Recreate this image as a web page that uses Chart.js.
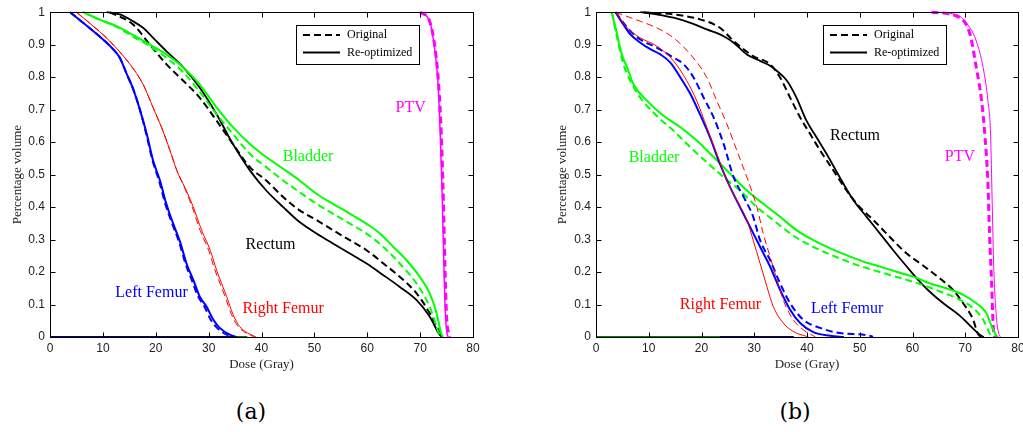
<!DOCTYPE html>
<html><head><meta charset="utf-8">
<script src="https://cdn.jsdelivr.net/npm/chart.js@4/dist/chart.umd.min.js"></script>
<style>
html,body{margin:0;padding:0;background:#fff;overflow:hidden;width:1023px;height:432px;}
#wa{position:absolute;left:0;top:0;width:500px;height:380px;}
#wb{position:absolute;left:540px;top:0;width:500px;height:380px;}
.cap{position:absolute;top:399px;line-height:26px;font-family:"DejaVu Serif",serif;font-size:22px;transform:translateX(-50%);color:#000;}
</style></head>
<body>
<div id="wa"><canvas id="ca" width="500" height="380"></canvas></div>
<div id="wb"><canvas id="cb" width="500" height="380"></canvas></div>
<div class="cap" style="left:251px">(a)</div>
<div class="cap" style="left:795px">(b)</div>
<script>
// ---------- tick labels ----------
const xTickLabels = ['0','10','20','30','40','50','60','70','80'];
const yTickLabels = ['0','0.1','0.2','0.3','0.4','0.5','0.6','0.7','0.8','0.9','1'];
const legendLabels = ['Original','Re-optimized'];
const structureNames = ['PTV','Bladder','Rectum','Left Femur','Right Femur'];

// ---------- panel (a) ----------
const aLeftFemurReDose  = [3.8,9.4,12,13.2,14.5,15.7,17,18.3,19.5,20.8,22,23.3,24.6,25.8,27.1,28.3,29.6,30.9,32.1,34,35.2];
const aLeftFemurReVol   = [1,0.925,0.885,0.86,0.81,0.765,0.70,0.625,0.543,0.482,0.41,0.349,0.293,0.227,0.176,0.125,0.094,0.053,0.028,0.007,0];
const aLeftFemurOrDose  = [3.8,9.4,12,13.2,14.5,15.7,17,18.2,19.4,20.6,21.8,23.1,24.4,25.6,26.8,28,29.2,30.4,31.6,33.4,34.6];
const aLeftFemurOrVol   = [1,0.925,0.885,0.86,0.81,0.765,0.70,0.625,0.543,0.482,0.41,0.349,0.293,0.227,0.176,0.125,0.094,0.053,0.028,0.007,0];
const aRightFemurReDose = [5,9.4,11.3,15.1,17.6,19.5,21.1,22.7,24,25.5,27.1,28.7,30.3,31.5,33.4,34.6,35.9,38.7,39];
const aRightFemurReVol  = [1,0.94,0.911,0.84,0.778,0.706,0.645,0.574,0.512,0.461,0.40,0.328,0.267,0.206,0.125,0.07,0.032,0.002,0];
const aRightFemurOrDose = [5,9.4,11.3,15.1,17.6,19.5,21.1,22.7,24,25.4,26.9,28.4,30,31.2,33.1,34.3,35.6,38.4,38.7];
const aRightFemurOrVol  = [1,0.94,0.911,0.84,0.778,0.706,0.645,0.574,0.512,0.461,0.40,0.328,0.267,0.206,0.125,0.07,0.032,0.002,0];
const aBladderReDose    = [6.3,9.4,12.6,15.7,18.9,22,25.2,28.3,31.5,34.6,37.8,40.9,44.1,47.2,50.4,53.5,56.7,59.8,62.4,64.9,67.4,69.9,71.8,73.1,74,74.3];
const aBladderReVol     = [1,0.977,0.957,0.93,0.90,0.87,0.83,0.778,0.707,0.646,0.594,0.554,0.518,0.482,0.441,0.41,0.38,0.349,0.319,0.278,0.237,0.186,0.135,0.074,0.01,0];
const aBladderOrDose    = [6.3,9.4,12.6,15.7,18.9,22,25.2,28.3,31.5,34.6,37.8,40.9,44.1,47.2,50.4,53.5,56.7,59.8,63,66.1,69.3,71.8,73.7,74.1];
const aBladderOrVol     = [1,0.977,0.955,0.925,0.895,0.86,0.815,0.755,0.686,0.625,0.564,0.523,0.482,0.446,0.41,0.38,0.349,0.319,0.278,0.227,0.165,0.094,0.007,0];
const aRectumReDose     = [10.7,13.2,15.7,17.6,19.5,22,25.2,28.3,31.5,34.6,37.8,40.9,44.1,47.2,50.4,53.5,56.7,59.8,63,66.1,69.3,71.8,73.7,74.2];
const aRectumReVol      = [1,0.993,0.972,0.952,0.921,0.88,0.83,0.768,0.686,0.594,0.513,0.451,0.40,0.354,0.319,0.288,0.257,0.227,0.191,0.155,0.114,0.063,0.007,0];
const aRectumOrDose     = [11.3,15.7,18.9,22,25.2,28.3,31.5,34.6,37.8,40.9,44.1,47.2,50.4,53.5,56.7,59.8,63,66.1,69.3,71.8,74,74.4];
const aRectumOrVol      = [1,0.962,0.90,0.84,0.789,0.737,0.666,0.594,0.523,0.482,0.431,0.39,0.36,0.329,0.298,0.268,0.227,0.186,0.135,0.074,0.007,0];
const aPtvReDose        = [69.9,71.8,72.8,73.4,73.8,74.2,74.5,74.8,75.1,75.3];
const aPtvReVol         = [1,0.972,0.88,0.778,0.625,0.42,0.217,0.063,0.01,0];
const aPtvOrDose        = [70,71.8,72.9,73.5,74,74.4,74.7,75,75.4,75.6];
const aPtvOrVol         = [1,0.972,0.88,0.778,0.625,0.42,0.217,0.063,0.01,0];
const aBaseNavyDose     = [0,35.5];
const aBaseGreenDose    = [35.5,37.3];
const aBaseVol          = [0,0];

// ---------- panel (b) ----------
const bRectumReDose     = [8.4,11.5,14.7,17.9,21,24.2,26.1,28.6,31.1,33,34.3,36.2,38,39.9,41.8,43.7,46.2,48.8,51.3,53.8,56.3,58.9,61.4,63.9,66.4,69,70.9,72.7,73.5];
const bRectumReVol      = [1,0.993,0.983,0.967,0.947,0.926,0.906,0.87,0.85,0.835,0.819,0.789,0.737,0.666,0.615,0.564,0.492,0.421,0.37,0.319,0.268,0.217,0.17,0.13,0.097,0.065,0.035,0.008,0];
const bRectumOrDose     = [9,14.7,19.7,23.5,26.1,29.8,33,34.9,36.8,38.7,40.6,42.5,45,47.5,50,52.6,55.7,58.9,62,65.2,67.7,69.6,71.5,72.4,73];
const bRectumOrVol      = [1,0.993,0.978,0.952,0.911,0.865,0.84,0.799,0.737,0.676,0.625,0.574,0.513,0.451,0.40,0.36,0.308,0.257,0.22,0.18,0.145,0.104,0.053,0.01,0];
const bBladderReDose    = [3,4,4.9,5.9,7.1,9.7,12.8,16,19.1,22.3,25.4,28.6,31.7,34.9,38,41.2,44.4,47.5,50.7,53.8,57,60.1,63.3,66.4,69.6,72.1,74,75,75.9,76.2];
const bBladderReVol     = [1,0.932,0.87,0.83,0.778,0.727,0.681,0.646,0.605,0.554,0.503,0.451,0.41,0.37,0.329,0.298,0.273,0.252,0.232,0.217,0.201,0.186,0.165,0.15,0.13,0.104,0.074,0.033,0.004,0];
const bBladderOrDose    = [3,4,5.2,6.5,8.4,11.5,14.7,17.9,21,24.2,27.3,30.5,33.6,36.8,39.9,43.1,46.2,49.4,52.6,55.7,58.9,62,65.2,68.3,71.5,73.4,74.6,75];
const bBladderOrVol     = [1,0.921,0.84,0.789,0.737,0.681,0.635,0.584,0.538,0.492,0.451,0.40,0.36,0.319,0.288,0.263,0.242,0.222,0.206,0.191,0.176,0.16,0.14,0.12,0.089,0.053,0.012,0];
const bLeftFemurReDose  = [3.7,5.2,6.5,8.4,10.3,12.2,14.1,16,17.9,19.7,21.6,23.5,25.4,27.3,29.2,31.1,33,34.9,36.8,38.7,41.2,44.4,47];
const bLeftFemurReVol   = [1,0.962,0.932,0.906,0.886,0.87,0.845,0.799,0.748,0.686,0.615,0.533,0.462,0.40,0.339,0.278,0.217,0.145,0.084,0.043,0.015,0.004,0];
const bLeftFemurOrDose  = [3.7,6.5,8.4,11.5,14.7,16.6,18.5,20.4,22.3,24.2,26.1,28,29.8,31.1,33,34.9,36.8,39.3,42.5,46.2,51.9,52.5];
const bLeftFemurOrVol   = [1,0.942,0.916,0.891,0.86,0.84,0.799,0.737,0.676,0.594,0.492,0.431,0.37,0.298,0.237,0.165,0.104,0.053,0.028,0.012,0.004,0];
const bRightFemurReDose = [3.7,5.9,8.4,11.5,14.7,17.2,19.1,21,22.9,24.8,26.7,28.6,29.8,31.1,32.4,33.6,35.5,37.4,39.9,40.3];
const bRightFemurReVol  = [1,0.952,0.921,0.896,0.85,0.789,0.727,0.646,0.564,0.482,0.421,0.36,0.298,0.227,0.155,0.094,0.043,0.017,0.002,0];
const bRightFemurOrDose = [3.7,8.4,11.5,14.7,17.9,21,22.9,24.8,26.7,28.6,30.5,31.7,33,34.3,35.5,37.4,39.3,41.2,41.6];
const bRightFemurOrVol  = [1,0.972,0.952,0.921,0.87,0.799,0.727,0.656,0.574,0.492,0.40,0.319,0.247,0.176,0.114,0.053,0.022,0.004,0];
const bPtvReDose        = [63.6,68.3,70.9,72.1,73.4,74.3,74.8,75.1,75.4,75.9,76.5,76.8];
const bPtvReVol         = [1,0.993,0.952,0.911,0.829,0.727,0.625,0.42,0.217,0.063,0.004,0];
const bPtvOrDose        = [63.6,69,70.9,72.1,73.1,73.7,74.3,74.6,75,75.3,75.6];
const bPtvOrVol         = [1,0.983,0.932,0.829,0.727,0.625,0.472,0.319,0.165,0.033,0];
const bBaseGreenDose    = [0,23.5];
const bBaseNavyDose     = [23.5,37.5];
const bBaseVol          = [0,0];

// ---------- styling ----------
const COL = {ptv:'#ff00ff', bladder:'#00ff00', rectum:'#000000', lf:'#0000ff', rf:'#ff0000', navy:'#000080', dgreen:'#008000'};
const DASH = [7,4];

function pts(xs, ys){ return xs.map((x,i)=>({x:x, y:ys[i]})); }
function ds(xs, ys, color, width, dashed){
  return {data: pts(xs, ys), borderColor: color, borderWidth: width, borderDash: dashed ? DASH : [],
          pointRadius: 0, fill: false, cubicInterpolationMode: 'monotone', clip: 4};
}

const decor = {
  id: 'decor',
  afterDatasetsDraw(chart, args, o){
    const ctx = chart.ctx, a = chart.chartArea, xs = chart.scales.x, ys = chart.scales.y;
    ctx.save();
    ctx.font = '16px "Liberation Serif"';
    ctx.textAlign = 'center'; ctx.textBaseline = 'middle';
    o.labels.forEach(l => { ctx.fillStyle = l.color; ctx.fillText(l.text, xs.getPixelForValue(l.x), ys.getPixelForValue(l.y)); });
    ctx.strokeStyle = '#000'; ctx.lineWidth = 1; ctx.setLineDash([]);
    const L = Math.round(a.left)+0.5, R = Math.round(a.right)+0.5, T = Math.round(a.top)+0.5, B = Math.round(a.bottom)+0.5;
    ctx.strokeRect(L, T, R-L, B-T);
    const tl = 5;
    ctx.beginPath();
    xs.ticks.forEach(t => { const p = Math.round(xs.getPixelForValue(t.value))+0.5; ctx.moveTo(p,B); ctx.lineTo(p,B-tl); ctx.moveTo(p,T); ctx.lineTo(p,T+tl); });
    ys.ticks.forEach(t => { const p = Math.round(ys.getPixelForValue(t.value))+0.5; ctx.moveTo(L,p); ctx.lineTo(L+tl,p); ctx.moveTo(R,p); ctx.lineTo(R-tl,p); });
    ctx.stroke();
    const g = o.legend;
    ctx.fillStyle = '#fff'; ctx.fillRect(g.x, g.y, g.w, g.h);
    ctx.strokeRect(g.x+0.5, g.y+0.5, g.w, g.h);
    ctx.lineWidth = 2;
    ctx.setLineDash(DASH); ctx.beginPath(); ctx.moveTo(g.x+7, g.y+10); ctx.lineTo(g.x+44, g.y+10); ctx.stroke();
    ctx.setLineDash([]); ctx.beginPath(); ctx.moveTo(g.x+7, g.y+27.5); ctx.lineTo(g.x+44, g.y+27.5); ctx.stroke();
    ctx.fillStyle = '#000'; ctx.font = '12px "Liberation Serif"'; ctx.textAlign = 'left';
    ctx.fillText(legendLabels[0], g.x+51, g.y+10);
    ctx.fillText(legendLabels[1], g.x+51, g.y+27.5);
    ctx.restore();
  }
};

function makeChart(id, datasets, yAxisWidth, yTitlePad, padRight, labels, legend){
  return new Chart(document.getElementById(id), {
    type: 'line',
    data: {datasets: datasets},
    options: {
      responsive: false, animation: false, devicePixelRatio: 1, events: [],
      layout: {padding: {left: 0, top: 11, right: padRight, bottom: 0}},
      plugins: {legend: {display: false}, tooltip: {enabled: false}, decor: {labels: labels, legend: legend}},
      scales: {
        x: {type: 'linear', min: 0, max: 80,
            ticks: {stepSize: 10, padding: 4, color: '#222', font: {family: '"Liberation Sans"', size: 12},
                    callback: (v, i) => xTickLabels[i]},
            grid: {display: false, drawTicks: false}, border: {display: false},
            title: {display: true, text: 'Dose (Gray)', color: '#222', font: {family: '"Liberation Serif"', size: 13}, padding: {top: 0, bottom: 8}},
            afterFit: s => { s.height = 43; }},
        y: {type: 'linear', min: 0, max: 1,
            ticks: {stepSize: 0.1, padding: 5, color: '#222', font: {family: '"Liberation Sans"', size: 12},
                    callback: (v, i) => yTickLabels[i]},
            grid: {display: false, drawTicks: false}, border: {display: false},
            title: {display: true, text: 'Percentage volume', color: '#222', font: {family: '"Liberation Serif"', size: 13}, padding: {top: yTitlePad, bottom: 0}},
            afterFit: s => { s.width = yAxisWidth; }}
      }
    },
    plugins: [decor]
  });
}

const dsA = [
  ds(aBaseNavyDose, aBaseVol, COL.navy, 2, false),
  ds(aBaseGreenDose, aBaseVol, COL.dgreen, 2, false),
  ds(aRightFemurOrDose, aRightFemurOrVol, COL.rf, 1, true),
  ds(aRightFemurReDose, aRightFemurReVol, COL.rf, 1, false),
  ds(aLeftFemurOrDose, aLeftFemurOrVol, COL.lf, 2, true),
  ds(aLeftFemurReDose, aLeftFemurReVol, COL.lf, 2, false),
  ds(aBladderOrDose, aBladderOrVol, COL.bladder, 2, true),
  ds(aBladderReDose, aBladderReVol, COL.bladder, 2, false),
  ds(aRectumOrDose, aRectumOrVol, COL.rectum, 2, true),
  ds(aRectumReDose, aRectumReVol, COL.rectum, 1.8, false),
  ds(aPtvReDose, aPtvReVol, COL.ptv, 1.5, false),
  ds(aPtvOrDose, aPtvOrVol, COL.ptv, 3, true)
];
const dsB = [
  ds(bBaseGreenDose, bBaseVol, COL.dgreen, 2, false),
  ds(bBaseNavyDose, bBaseVol, COL.navy, 2, false),
  ds(bRightFemurOrDose, bRightFemurOrVol, COL.rf, 1, true),
  ds(bRightFemurReDose, bRightFemurReVol, COL.rf, 1, false),
  ds(bLeftFemurOrDose, bLeftFemurOrVol, COL.lf, 2, true),
  ds(bLeftFemurReDose, bLeftFemurReVol, COL.lf, 2, false),
  ds(bBladderOrDose, bBladderOrVol, COL.bladder, 2, true),
  ds(bBladderReDose, bBladderReVol, COL.bladder, 2, false),
  ds(bRectumOrDose, bRectumOrVol, COL.rectum, 2, true),
  ds(bRectumReDose, bRectumReVol, COL.rectum, 1.8, false),
  ds(bPtvReDose, bPtvReVol, COL.ptv, 1, false),
  ds(bPtvOrDose, bPtvOrVol, COL.ptv, 3, true)
];

const labelsA = [
  {text: structureNames[0], x: 68.2, y: 0.707, color: COL.ptv},
  {text: structureNames[1], x: 48.8, y: 0.554, color: COL.bladder},
  {text: structureNames[2], x: 41.7, y: 0.283, color: COL.rectum},
  {text: structureNames[3], x: 19.2, y: 0.137, color: COL.lf},
  {text: structureNames[4], x: 44.1, y: 0.087, color: COL.rf}
];
const labelsB = [
  {text: structureNames[2], x: 49.1, y: 0.62, color: COL.rectum},
  {text: structureNames[0], x: 69.0, y: 0.554, color: COL.ptv},
  {text: structureNames[1], x: 11.0, y: 0.552, color: COL.bladder},
  {text: structureNames[4], x: 23.6, y: 0.099, color: COL.rf},
  {text: structureNames[3], x: 47.6, y: 0.086, color: COL.lf}
];

makeChart('ca', dsA, 50, 10, 27, labelsA, {x: 296, y: 25, w: 123, h: 39});
makeChart('cb', dsB, 56, 15, 22, labelsB, {x: 283, y: 25, w: 123, h: 39});
</script>
</body></html>
